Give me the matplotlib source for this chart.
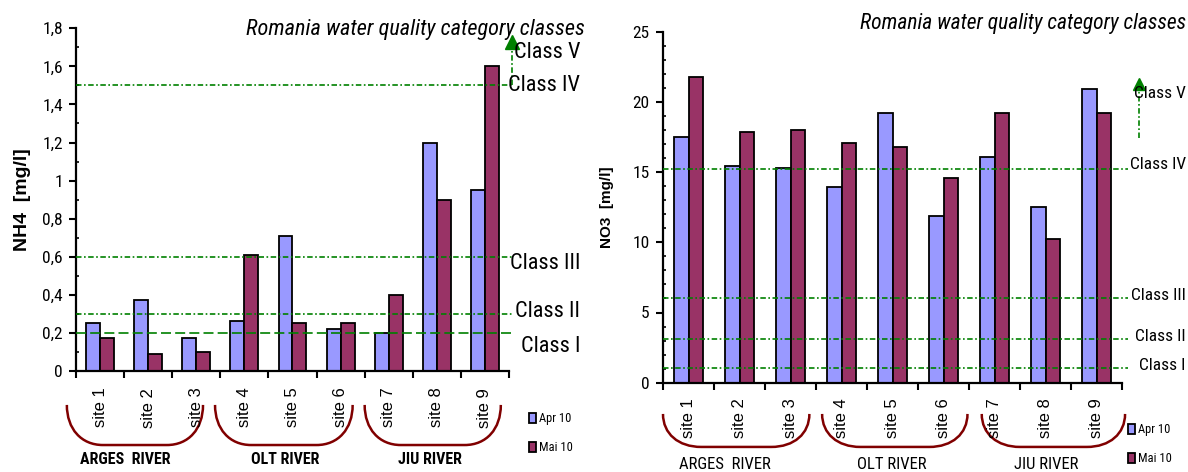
"""Romania water quality: NH4 and NO3 by site, Apr/Mai 2010, with class thresholds."""

import matplotlib
matplotlib.use("Agg")
import matplotlib.pyplot as plt
from matplotlib import font_manager
from matplotlib.path import Path
from matplotlib.patches import PathPatch
from matplotlib.ticker import FuncFormatter, MultipleLocator
import matplotlib.transforms as mtransforms

SITES = [f"site {i}" for i in range(1, 10)]
SERIES = ["Apr 10", "Mai 10"]

NH4_APR = [0.25, 0.375, 0.175, 0.26, 0.71, 0.22, 0.20, 1.20, 0.95]
NH4_MAI = [0.175, 0.088, 0.10, 0.61, 0.25, 0.25, 0.40, 0.90, 1.60]
NO3_APR = [17.5, 15.45, 15.3, 13.95, 19.2, 11.9, 16.1, 12.5, 20.9]
NO3_MAI = [21.8, 17.85, 18.0, 17.1, 16.8, 14.6, 19.2, 10.2, 19.2]

CLASS_NAMES = ["Class I", "Class II", "Class III", "Class IV", "Class V"]
NH4_LIMITS = [0.2, 0.3, 0.6, 1.5]
NO3_LIMITS = [1.05, 3.1, 6.0, 15.2]
RIVERS = ["ARGES  RIVER", "OLT RIVER", "JIU RIVER"]

C_APR = "#9999ff"
C_MAI = "#993366"
C_LINE = "#008000"
C_BRACKET = "#800000"
DASHDOT = (0, (3.3, 1.5, 1.0, 1.5))


def find_narrow():
    fonts = font_manager.fontManager.ttflist
    names = {f.name for f in fonts}
    for n in ("Liberation Sans Narrow", "Roboto Condensed", "Open Sans Condensed", "Arial Narrow"):
        if n in names:
            return {"family": n}, 1.0
    for f in fonts:
        st = str(f.stretch)
        if f.name in ("DejaVu Sans", "Noto Sans", "Open Sans", "Roboto") and st in ("condensed", "semi-condensed", "500", "375"):
            return {"family": f.name, "stretch": "condensed"}, 0.95
    return {"family": "Liberation Sans"}, 0.82


NARROW, NS = find_narrow()
REG = "Liberation Sans"

plt.rcParams.update({"font.family": REG, "axes.linewidth": 1.6})

W, H = 1188, 472


def px_axes(fig, x0, y0, x1, y1):
    # axes from pixel box (top-left origin)
    return fig.add_axes([x0 / W, (H - y1) / H, (x1 - x0) / W, (y1 - y0) / H])


def bracket(ax, x0, x1, ytop, ybot, r=0.75):
    tr = mtransforms.blended_transform_factory(ax.transData, ax.transAxes)
    dy = ybot - ytop
    verts = [
        (x0, ytop), (x0, ytop + 0.6 * dy), (x0 + 0.4 * r, ybot), (x0 + r, ybot),
        (x1 - r, ybot),
        (x1 - 0.4 * r, ybot), (x1, ytop + 0.6 * dy), (x1, ytop),
    ]
    codes = [Path.MOVETO, Path.CURVE4, Path.CURVE4, Path.CURVE4, Path.LINETO,
             Path.CURVE4, Path.CURVE4, Path.CURVE4]
    ax.add_patch(PathPatch(Path(verts, codes), fill=False, edgecolor=C_BRACKET,
                           lw=1.8, transform=tr, clip_on=False))


def panel(fig, box, apr, mai, ymax, ystep, yminor, limits, ylabel, cfg):
    ax = px_axes(fig, *box)
    x = list(range(len(SITES)))
    bw = 0.29
    b1 = ax.bar([i - bw / 2 for i in x], apr, bw, color=C_APR, edgecolor="black", lw=1.3, label=SERIES[0])
    b2 = ax.bar([i + bw / 2 for i in x], mai, bw, color=C_MAI, edgecolor="black", lw=1.3, label=SERIES[1])
    ax.set_xlim(-0.5, len(SITES) - 0.5)
    ax.set_ylim(0, ymax)
    for s in ("top", "right"):
        ax.spines[s].set_visible(False)

    ax.set_xticks([i - 0.5 for i in range(len(SITES) + 1)])
    ax.set_xticklabels([])
    ax.set_xticks(x, minor=True)
    ax.set_xticklabels(SITES, minor=True, rotation=90, fontsize=12, family=REG)
    ax.tick_params(axis="x", which="major", direction="out", length=5, width=1.5)
    ax.tick_params(axis="x", which="minor", length=0, pad=cfg["xpad"])

    ax.yaxis.set_major_locator(MultipleLocator(ystep))
    ax.yaxis.set_minor_locator(MultipleLocator(yminor))
    ax.yaxis.set_major_formatter(FuncFormatter(lambda v, p: f"{v:g}".replace(".", ",")))
    ax.tick_params(axis="y", which="major", direction="out", length=5, width=1.5, pad=4.5)
    ax.tick_params(axis="y", which="minor", direction="in", length=2.5, width=1.2)
    for t in ax.get_yticklabels():
        t.set_fontproperties(font_manager.FontProperties(size=cfg["ytick"] * NS, **NARROW))
    ax.set_ylabel(ylabel, fontsize=cfg["ylab"], fontweight="bold", labelpad=cfg["ylabpad"])

    # class threshold lines
    for k, lim in enumerate(limits):
        ls = (0, (6, 2.5)) if (k == 0 and cfg["dash_first"]) else DASHDOT
        ax.axhline(lim, xmin=0, xmax=cfg["line_end"], color=C_LINE, lw=1.2, ls=ls,
                   clip_on=False, zorder=3)
    tra = mtransforms.blended_transform_factory(ax.transAxes, ax.transData)
    ax.plot([cfg["arrow_x"]] * 2, cfg["arrow_span"], color=C_LINE, lw=1.2, ls=DASHDOT,
            transform=tra, clip_on=False)
    ax.plot([cfg["arrow_x"]], [cfg["arrow_span"][1]], marker="^", ms=cfg["arrow_ms"],
            color=C_LINE, transform=tra, clip_on=False)
    for name, yy in zip(CLASS_NAMES, cfg["label_y"]):
        ax.text(cfg["label_x"], yy, name, transform=tra, ha="right", va="center",
                fontsize=cfg["class_fs"] * NS, clip_on=False, **NARROW)

    fig.text(cfg["title_xy"][0] / W, 1 - cfg["title_xy"][1] / H,
             "Romania water quality category classes", ha="right", va="center",
             fontsize=cfg["title_fs"] * NS, style="italic", **NARROW)

    for (x0, x1) in cfg["brackets"]:
        bracket(ax, x0, x1, *cfg["bracket_y"])
    trx = mtransforms.blended_transform_factory(ax.transData, ax.transAxes)
    for name, xc in zip(RIVERS, cfg["river_x"]):
        ax.text(xc, cfg["river_y"], name, transform=trx, ha="center", va=cfg["river_va"],
                fontsize=cfg["river_fs"] * NS, fontweight=cfg["river_w"], clip_on=False, **NARROW)

    fig.legend([b1, b2], SERIES, loc="upper left",
               bbox_to_anchor=(cfg["leg_xy"][0] / W, 1 - cfg["leg_xy"][1] / H),
               frameon=False, handlelength=0.55, handleheight=0.9,
               handletextpad=0.25, labelspacing=1.3, borderpad=0, borderaxespad=0,
               prop=font_manager.FontProperties(size=9 * NS, **NARROW))
    return ax


fig = plt.figure(figsize=(W / 100, H / 100), dpi=100)

panel(fig, (76, 28.3, 509, 371), NH4_APR, NH4_MAI, 1.8, 0.2, 0.1, NH4_LIMITS,
      "NH4  [mg/l]",
      dict(xpad=12, ytick=12.5, ylab=14, ylabpad=8, dash_first=True, line_end=1.009,
           arrow_x=1.007, arrow_span=[1.5, 1.73], arrow_ms=10,
           label_x=1.164, label_y=[0.131, 0.315, 0.567, 1.50, 1.675], class_fs=16,
           title_xy=(585, 29), title_fs=16,
           brackets=[(-0.69, 2.14), (2.39, 5.25), (5.50, 8.33)], bracket_y=(-0.099, -0.216),
           river_x=[0.53, 3.84, 6.85], river_y=-0.257, river_va="center", river_fs=11.5,
           river_w="bold", leg_xy=(529, 412)))

panel(fig, (663, 31.7, 1122, 382.7), NO3_APR, NO3_MAI, 25, 5, 1, NO3_LIMITS,
      "NO3  [mg/l]",
      dict(xpad=11, ytick=12.5, ylab=11, ylabpad=13, dash_first=False, line_end=1.013,
           arrow_x=1.037, arrow_span=[17.4, 21.25], arrow_ms=9,
           label_x=1.139, label_y=[1.19, 3.3, 6.22, 15.56, 20.6], class_fs=12.5,
           title_xy=(1186, 24), title_fs=15.5,
           brackets=[(-0.5, 2.37), (2.62, 5.47), (5.75, 8.56)], bracket_y=(-0.089, -0.183),
           river_x=[0.72, 3.98, 7.02], river_y=-0.247, river_va="baseline", river_fs=12,
           river_w="normal", leg_xy=(1128, 423)))

fig.savefig("out.png", dpi=100)
